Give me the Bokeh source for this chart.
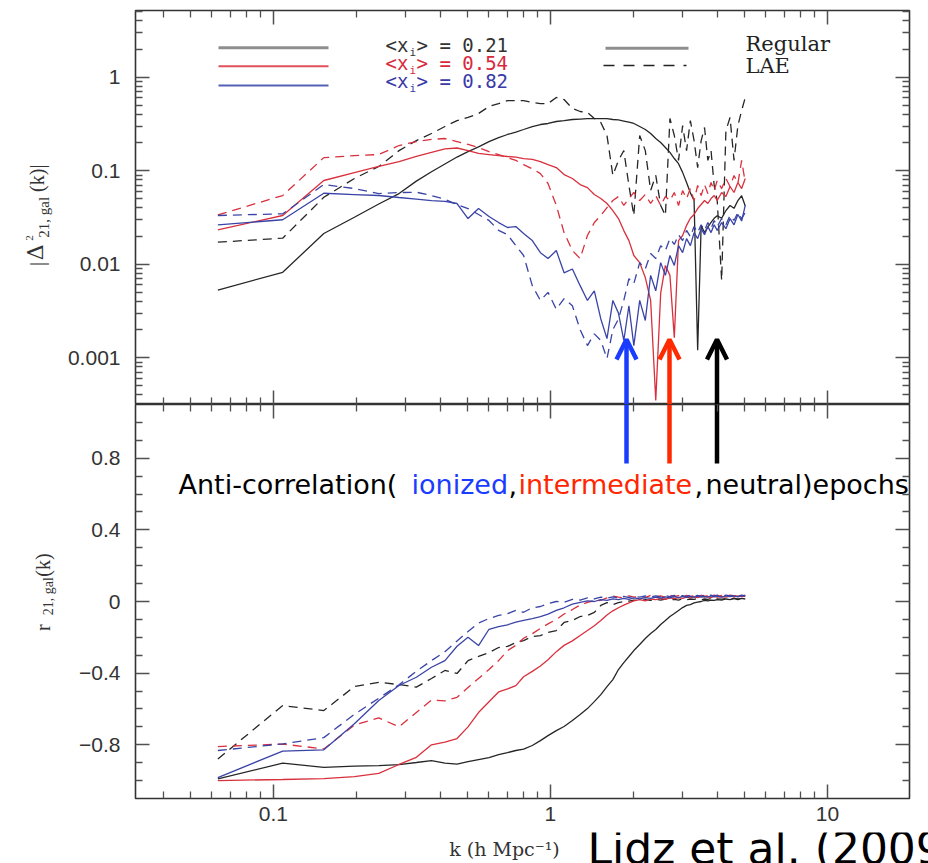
import math
from bokeh.plotting import figure
from bokeh.layouts import column, row
from bokeh.models import Range1d, FixedTicker, LogAxis, LinearAxis, Label, Arrow, OpenHead
from bokeh.embed import file_html
from bokeh.resources import INLINE

# ---------------- data ----------------
k = [0.063, 0.108, 0.152, 0.196, 0.24, 0.284, 0.328, 0.372, 0.416, 0.46,
     0.504, 0.55, 0.6, 0.65, 0.7, 0.75, 0.8, 0.86, 0.92, 0.98,
     1.05, 1.12, 1.2, 1.28, 1.36, 1.44, 1.52, 1.6, 1.68, 1.76,
     1.84, 1.92, 2.0, 2.1, 2.2, 2.3, 2.4, 2.5, 2.6, 2.7,
     2.8, 2.9, 3.0, 3.1, 3.2, 3.3, 3.4, 3.5, 3.6, 3.7,
     3.8, 3.9, 4.0, 4.15, 4.3, 4.45, 4.6, 4.75, 4.9, 5.05]

# |Delta^2_21,gal(k)|  (top panel)
pow_reg_021 = [0.0053, 0.0082, 0.0213, 0.0318, 0.0441, 0.057, 0.0774, 0.0976, 0.118, 0.14,
               0.16, 0.18, 0.205, 0.226, 0.244, 0.259, 0.276, 0.297, 0.312, 0.32,
               0.336, 0.344, 0.353, 0.357, 0.36, 0.36, 0.36, 0.36, 0.353, 0.349,
               0.34, 0.33, 0.32, 0.297, 0.276, 0.25, 0.221, 0.2, 0.177, 0.157,
               0.135, 0.119, 0.096, 0.075, 0.058, 0.048, 0.0012, 0.026, 0.0218, 0.025,
               0.028, 0.031, 0.033, 0.031, 0.0375, 0.0425, 0.0396, 0.048, 0.054, 0.042]
pow_lae_021 = [0.0172, 0.019, 0.052, 0.0826, 0.111, 0.164, 0.21, 0.25, 0.297, 0.344,
               0.371, 0.409, 0.486, 0.523, 0.563, 0.563, 0.563, 0.536, 0.523, 0.523,
               0.607, 0.577, 0.463, 0.43, 0.42, 0.362, 0.328, 0.238, 0.089, 0.129,
               0.164, 0.0695, 0.0332, 0.238, 0.164, 0.0614, 0.089, 0.0425, 0.0332, 0.362,
               0.238, 0.129, 0.304, 0.164, 0.344, 0.21, 0.108, 0.21, 0.29, 0.129,
               0.164, 0.0695, 0.048, 0.0067, 0.269, 0.371, 0.129, 0.304, 0.44, 0.607]
pow_reg_054 = [0.0233, 0.0332, 0.0786, 0.0957, 0.111, 0.125, 0.142, 0.157, 0.171, 0.175,
               0.164, 0.153, 0.149, 0.145, 0.142, 0.14, 0.135, 0.132, 0.125, 0.116,
               0.108, 0.091, 0.0826, 0.0711, 0.066, 0.0556, 0.0504, 0.0446, 0.0375, 0.0308,
               0.0229, 0.0179, 0.0124, 0.0104, 0.0072, 0.0041, 0.00035, 0.0049, 0.0097, 0.0076,
               0.00164, 0.0179, 0.0203, 0.026, 0.031, 0.034, 0.0394, 0.0435, 0.048, 0.0446,
               0.0504, 0.0543, 0.048, 0.0585, 0.053, 0.0678, 0.0585, 0.0748, 0.0644, 0.0826]
pow_lae_054 = [0.0337, 0.0543, 0.138, 0.145, 0.149, 0.186, 0.205, 0.216, 0.221, 0.205,
               0.191, 0.177, 0.16, 0.149, 0.138, 0.129, 0.116, 0.105, 0.093, 0.073,
               0.0425, 0.0218, 0.014, 0.0115, 0.0203, 0.0279, 0.0332, 0.0404, 0.048, 0.053,
               0.0425, 0.0504, 0.0585, 0.048, 0.0556, 0.0446, 0.0543, 0.0425, 0.053, 0.048,
               0.0585, 0.0425, 0.0612, 0.0504, 0.0644, 0.048, 0.0695, 0.0543, 0.071, 0.057,
               0.0748, 0.0612, 0.0786, 0.0644, 0.0826, 0.0678, 0.089, 0.073, 0.129, 0.0748]
pow_reg_082 = [0.0264, 0.0299, 0.0574, 0.0556, 0.0543, 0.0517, 0.0498, 0.048, 0.0469, 0.0446,
               0.0308, 0.0394, 0.0324, 0.0279, 0.0247, 0.0253, 0.0213, 0.0179, 0.0133, 0.0115,
               0.014, 0.0081, 0.0089, 0.0059, 0.0041, 0.0052, 0.0026, 0.0016, 0.0041, 0.003,
               0.00153, 0.0036, 0.00135, 0.0041, 0.0025, 0.0076, 0.0052, 0.0104, 0.0076, 0.0124,
               0.0097, 0.0158, 0.0133, 0.0188, 0.0158, 0.0218, 0.0188, 0.024, 0.0207, 0.0253,
               0.0218, 0.0264, 0.023, 0.0279, 0.024, 0.0308, 0.0264, 0.034, 0.029, 0.0425]
pow_lae_082 = [0.0332, 0.0346, 0.0711, 0.0645, 0.057, 0.0584, 0.0589, 0.0543, 0.0495, 0.0435,
               0.0394, 0.034, 0.0294, 0.023, 0.0207, 0.0158, 0.0124, 0.0059, 0.0041, 0.005,
               0.0033, 0.0043, 0.0036, 0.002, 0.00135, 0.0018, 0.00153, 0.00098, 0.002, 0.0026,
               0.0041, 0.007, 0.0062, 0.0104, 0.0089, 0.013, 0.0115, 0.0158, 0.014, 0.0188,
               0.0163, 0.0207, 0.0179, 0.023, 0.0197, 0.0253, 0.0218, 0.0264, 0.023, 0.0279,
               0.024, 0.0294, 0.0253, 0.0308, 0.0264, 0.0332, 0.0294, 0.0357, 0.0308, 0.0357]

# r_21,gal(k)  (bottom panel)
r_reg_021 = [-0.99, -0.903, -0.926, -0.919, -0.916, -0.911, -0.899, -0.888, -0.902, -0.908,
             -0.894, -0.883, -0.872, -0.855, -0.844, -0.832, -0.824, -0.804, -0.777, -0.749,
             -0.721, -0.698, -0.665, -0.631, -0.598, -0.559, -0.52, -0.475, -0.436, -0.38,
             -0.341, -0.307, -0.274, -0.24, -0.207, -0.179, -0.156, -0.128, -0.106, -0.084,
             -0.067, -0.05, -0.034, -0.022, -0.017, -0.008, -0.003, 0.0, 0.006, 0.003,
             0.008, 0.006, 0.011, 0.008, 0.014, 0.011, 0.017, 0.011, 0.017, 0.014]
r_lae_021 = [-0.879, -0.581, -0.609, -0.475, -0.451, -0.464, -0.478, -0.43, -0.385, -0.402,
             -0.33, -0.307, -0.285, -0.257, -0.251, -0.229, -0.218, -0.196, -0.19, -0.173,
             -0.162, -0.117, -0.106, -0.084, -0.078, -0.061, -0.022, -0.006, -0.017, -0.006,
             0.0, 0.002, 0.008, 0.004, 0.01, 0.006, 0.012, 0.008, 0.014, 0.01,
             0.012, 0.008, 0.015, 0.01, 0.014, 0.012, 0.016, 0.01, 0.014, 0.012,
             0.016, 0.011, 0.015, 0.013, 0.016, 0.012, 0.017, 0.014, 0.018, 0.015]
r_reg_054 = [-1.0, -0.994, -0.989, -0.978, -0.96, -0.91, -0.87, -0.80, -0.785, -0.765,
             -0.70, -0.62, -0.56, -0.505, -0.488, -0.47, -0.42, -0.39, -0.36, -0.325,
             -0.28, -0.245, -0.22, -0.19, -0.162, -0.135, -0.106, -0.075, -0.052, -0.035,
             -0.02, -0.008, 0.004, 0.01, 0.004, 0.014, 0.01, 0.018, 0.012, 0.02,
             0.016, 0.022, 0.018, 0.024, 0.02, 0.026, 0.022, 0.028, 0.024, 0.027,
             0.022, 0.03, 0.025, 0.028, 0.024, 0.03, 0.026, 0.031, 0.027, 0.03]
r_lae_054 = [-0.81, -0.796, -0.823, -0.69, -0.65, -0.70, -0.62, -0.55, -0.555, -0.535,
             -0.48, -0.43, -0.38, -0.33, -0.274, -0.245, -0.205, -0.18, -0.15, -0.125,
             -0.1, -0.07, -0.045, -0.02, -0.005, 0.005, 0.006, 0.02, 0.03, 0.024,
             0.02, 0.032, 0.024, 0.03, 0.022, 0.034, 0.026, 0.032, 0.024, 0.035,
             0.027, 0.033, 0.025, 0.034, 0.028, 0.032, 0.026, 0.035, 0.029, 0.033,
             0.027, 0.036, 0.03, 0.034, 0.028, 0.036, 0.031, 0.035, 0.03, 0.036]
r_reg_082 = [-0.983, -0.835, -0.828, -0.683, -0.553, -0.469, -0.423, -0.367, -0.33, -0.25,
             -0.2, -0.246, -0.155, -0.14, -0.13, -0.115, -0.105, -0.095, -0.085, -0.07,
             -0.05, -0.035, -0.015, -0.005, 0.003, 0.0, 0.011, 0.006, 0.015, 0.01,
             0.018, 0.012, 0.02, 0.015, 0.022, 0.017, 0.024, 0.019, 0.026, 0.02,
             0.027, 0.022, 0.028, 0.023, 0.029, 0.024, 0.03, 0.025, 0.029, 0.024,
             0.031, 0.026, 0.03, 0.025, 0.032, 0.027, 0.031, 0.026, 0.033, 0.03]
r_lae_082 = [-0.832, -0.795, -0.76, -0.63, -0.54, -0.465, -0.39, -0.33, -0.28, -0.22,
             -0.168, -0.12, -0.095, -0.078, -0.068, -0.05, -0.06, -0.035, -0.028, -0.012,
             0.0, -0.004, 0.012, 0.008, 0.02, 0.014, 0.025, 0.018, 0.026, 0.02,
             0.028, 0.022, 0.03, 0.024, 0.031, 0.025, 0.032, 0.026, 0.033, 0.027,
             0.034, 0.028, 0.033, 0.027, 0.035, 0.029, 0.034, 0.028, 0.035, 0.03,
             0.036, 0.03, 0.035, 0.029, 0.036, 0.031, 0.035, 0.03, 0.036, 0.032]

x_major = [0.1, 1, 10]
x_minor = [0.04, 0.05, 0.06, 0.07, 0.08, 0.09, 0.2, 0.3, 0.4, 0.5, 0.6, 0.7, 0.8, 0.9,
           2, 3, 4, 5, 6, 7, 8, 9]
x_labels = {0.1: "0.1", 1: "1", 10: "10"}
pow_major = [0.001, 0.01, 0.1, 1]
pow_minor = [0.0004, 0.0005, 0.0006, 0.0007, 0.0008, 0.0009,
             0.002, 0.003, 0.004, 0.005, 0.006, 0.007, 0.008, 0.009,
             0.02, 0.03, 0.04, 0.05, 0.06, 0.07, 0.08, 0.09,
             0.2, 0.3, 0.4, 0.5, 0.6, 0.7, 0.8, 0.9, 2, 3, 4, 5]
pow_labels = {0.001: "0.001", 0.01: "0.01", 0.1: "0.1", 1: "1"}
r_major = [-0.8, -0.4, 0, 0.4, 0.8]
r_minor = [-1.0, -0.9, -0.7, -0.6, -0.5, -0.3, -0.2, -0.1, 0.1, 0.2, 0.3, 0.5, 0.6, 0.7, 0.9, 1.0]
r_labels = {-0.8: "\u22120.8", -0.4: "\u22120.4", 0: "0", 0.4: "0.4", 0.8: "0.8"}

series_names = ["0.21", "0.54", "0.82"]

# ---------------- style ----------------
BLACK = "#262626"
RED = "#d9303d"
BLUE = "#3a44a6"
DASH = "9 6"
LW = 1.3
BL = 0.4   # label baseline correction (fraction of font size)

XL, DEC_X = -1.498, 277.0
YT, DEC_Y = 0.7134, 93.51


def kx(px):
    return 10 ** (XL + (px - 135.0) / DEC_X)


def ty(py):
    return 10 ** (YT - (py - 10.0) / DEC_Y)


def by(py):
    return 1.1 - (py - 404.0) / 179.09


xr = Range1d(10 ** XL, 10 ** (XL + 774.0 / DEC_X))


def style_axis(ax, labels):
    ax.axis_line_color = None
    ax.major_tick_in = 14
    ax.major_tick_out = 0
    ax.minor_tick_in = 7
    ax.minor_tick_out = 0
    ax.major_tick_line_color = "#505050"
    ax.minor_tick_line_color = "#505050"
    ax.major_tick_line_width = 1.5
    ax.minor_tick_line_width = 1.3
    if labels:
        ax.major_label_text_font = "Liberation Sans"
        ax.major_label_text_font_size = "21px"
        ax.major_label_text_color = "#333333"
    else:
        ax.major_label_text_font_size = "1px"
        ax.major_label_text_alpha = 0.0
        ax.major_label_standoff = 0


def strip(w, h, xr_, yr_):
    f = figure(width=w, height=h, x_range=xr_, y_range=yr_, output_backend="svg",
               toolbar_location=None, min_border=0, x_axis_location=None, y_axis_location=None,
               outline_line_color=None, background_fill_color="white", border_fill_color="white")
    f.xgrid.visible = False
    f.ygrid.visible = False
    return f


common = dict(output_backend="svg", toolbar_location=None, width=868,
              x_axis_type="log", x_range=xr, x_axis_location=None, y_axis_location=None,
              min_border_left=75, min_border_right=19,
              background_fill_color="white", border_fill_color="white",
              outline_line_color="#333333", outline_line_width=1.6)

# ---------------- top panel ----------------
p1 = figure(height=404, y_axis_type="log", y_range=Range1d(10 ** -3.5, 10 ** YT),
            min_border_top=10, min_border_bottom=0, **common)
p1.xgrid.visible = False
p1.ygrid.visible = False

for loc in ["above", "below"]:
    ax = LogAxis(ticker=FixedTicker(ticks=x_major, minor_ticks=x_minor))
    style_axis(ax, False)
    p1.add_layout(ax, loc)
ax = LogAxis(ticker=FixedTicker(ticks=pow_major, minor_ticks=pow_minor),
             major_label_overrides=pow_labels)
style_axis(ax, True)
ax.major_label_standoff = 15
p1.add_layout(ax, "left")
ax = LogAxis(ticker=FixedTicker(ticks=pow_major, minor_ticks=pow_minor))
style_axis(ax, False)
p1.add_layout(ax, "right")

top_series = [(pow_reg_021, BLACK, "solid"), (pow_lae_021, BLACK, DASH),
              (pow_reg_054, RED, "solid"), (pow_lae_054, RED, DASH),
              (pow_reg_082, BLUE, "solid"), (pow_lae_082, BLUE, DASH)]
for ys, c, d in top_series:
    n = min(len(k), len(ys))
    p1.line(k[:n], ys[:n], line_color=c, line_width=LW, line_dash=d)

# legend (colour key)
leg_rows = [(47.3, "#8e8e8e", 3.0, "#333333", series_names[0], 52.5),
            (65.7, "#e0505a", 2.0, "#d9283c", series_names[1], 70.5),
            (85.0, "#5560b4", 2.0, "#3a3aa8", series_names[2], 88.5)]
for yy, lc, lw, tc, name, base in leg_rows:
    p1.line([kx(218), kx(328)], [ty(yy), ty(yy)], line_color=lc, line_width=lw)
    p1.add_layout(Label(x=kx(385), y=ty(base - BL * 19), text="<x", text_font="DejaVu Sans Mono",
                        text_font_size="19px", text_color=tc, text_baseline="alphabetic"))
    p1.add_layout(Label(x=kx(409), y=ty(base + 4 - BL * 11), text="i", text_font="DejaVu Sans Mono",
                        text_font_size="11px", text_color=tc, text_baseline="alphabetic"))
    p1.add_layout(Label(x=kx(416), y=ty(base - BL * 19), text=">  = " + name,
                        text_font="DejaVu Sans Mono",
                        text_font_size="19px", text_color=tc, text_baseline="alphabetic"))

# legend (line style key)
p1.line([kx(605), kx(688)], [ty(47.7), ty(47.7)], line_color="#8e8e8e", line_width=3)
p1.line([kx(603), kx(686)], [ty(65), ty(65)], line_color="#222222", line_width=1.6, line_dash="11 9")
p1.add_layout(Label(x=kx(745), y=ty(52 - BL * 21), text="Regular", text_font="DejaVu Serif",
                    text_font_size="21px", text_color="#222222", text_baseline="alphabetic"))
p1.add_layout(Label(x=kx(745), y=ty(73.5 - BL * 21), text="LAE", text_font="DejaVu Serif",
                    text_font_size="21px", text_color="#222222", text_baseline="alphabetic"))

# ---------------- bottom panel ----------------
p2 = figure(height=428, y_range=Range1d(-1.1, 1.1),
            min_border_top=0, min_border_bottom=34, **common)
p2.xgrid.visible = False
p2.ygrid.visible = False

ax = LogAxis(ticker=FixedTicker(ticks=x_major, minor_ticks=x_minor))
style_axis(ax, False)
p2.add_layout(ax, "above")
ax = LogAxis(ticker=FixedTicker(ticks=x_major, minor_ticks=x_minor), major_label_overrides=x_labels)
style_axis(ax, True)
ax.major_label_standoff = 8
p2.add_layout(ax, "below")
ax = LinearAxis(ticker=FixedTicker(ticks=r_major, minor_ticks=r_minor), major_label_overrides=r_labels)
style_axis(ax, True)
ax.major_label_standoff = 15
p2.add_layout(ax, "left")
ax = LinearAxis(ticker=FixedTicker(ticks=r_major, minor_ticks=r_minor))
style_axis(ax, False)
p2.add_layout(ax, "right")

bot_series = [(r_reg_021, BLACK, "solid"), (r_lae_021, BLACK, DASH),
              (r_reg_054, RED, "solid"), (r_lae_054, RED, DASH),
              (r_reg_082, BLUE, "solid"), (r_lae_082, BLUE, DASH)]
for ys, c, d in bot_series:
    n = min(len(k), len(ys))
    p2.line(k[:n], ys[:n], line_color=c, line_width=LW, line_dash=d)

# ---------------- annotation: arrows + text ----------------
arrows = [(626, "#1a3cff"), (669, "#ff2a00"), (716.5, "#000000")]
for ax_px, c in arrows:
    p1.add_layout(Arrow(x_start=kx(ax_px), y_start=10 ** -3.5, x_end=kx(ax_px), y_end=ty(339),
                        line_color=c, line_width=4.5,
                        end=OpenHead(size=20, line_color=c, line_width=4.5)))
    p2.segment(x0=[kx(ax_px)], y0=[1.1], x1=[kx(ax_px)], y1=[by(463)], line_color=c, line_width=4.5)

pieces = [("Anti-correlation(", 178, "#000000"), ("ionized", 411, "#1a3cff"),
          (",", 508, "#000000"), ("intermediate", 518, "#ff2600"),
          (",", 694, "#000000"), ("neutral)epochs", 705, "#000000")]
for txt, px, c in pieces:
    p2.add_layout(Label(x=kx(px), y=by(495 - BL * 27), text=txt, text_font="DejaVu Sans",
                        text_font_size="27px", text_color=c, text_baseline="alphabetic"))

# ---------------- outer text strips (axis titles, citation) ----------------
rot = math.pi / 2
L1 = strip(60, 404, Range1d(0, 60), Range1d(404, 0))
for txt, px, py, sz, fnt in [("|", 44, 262, 20, "Liberation Serif"),
                             ("\u0394", 44, 256, 22, "DejaVu Serif"),
                             ("2", 33, 236, 11, "Liberation Serif"),
                             ("21, gal", 49, 233, 15, "Liberation Serif"),
                             ("(k)|", 44, 186, 20, "Liberation Serif")]:
    L1.add_layout(Label(x=px - BL * sz, y=py, text=txt, angle=rot, text_font=fnt,
                        text_font_size="%dpx" % sz, text_color="#333333",
                        text_baseline="alphabetic"))

L2 = strip(60, 428, Range1d(0, 60), Range1d(832, 404))
for txt, px, py, sz in [("r", 50, 650, 20), ("21, gal", 54, 633, 14), ("(k)", 50, 591, 20)]:
    L2.add_layout(Label(x=px - BL * sz, y=py, text=txt, angle=rot, text_font="Liberation Serif",
                        text_font_size="%dpx" % sz, text_color="#333333",
                        text_baseline="alphabetic"))

B = strip(928, 31, Range1d(0, 928), Range1d(863, 832))
B.add_layout(Label(x=510, y=856 - BL * 19, text="k  (h  Mpc\u207b\u00b9)", text_font="DejaVu Serif",
                   text_font_size="19px", text_color="#333333", text_align="center",
                   text_baseline="alphabetic"))
B.add_layout(Label(x=587, y=866 - BL * 44, text="Lidz et al. (2009)", text_font="DejaVu Sans",
                   text_font_size="44px", text_color="#000000", text_baseline="alphabetic"))

layout = column(row(L1, p1, spacing=0), row(L2, p2, spacing=0), B, spacing=0)
open("out.html", "w").write(file_html(layout, INLINE))
